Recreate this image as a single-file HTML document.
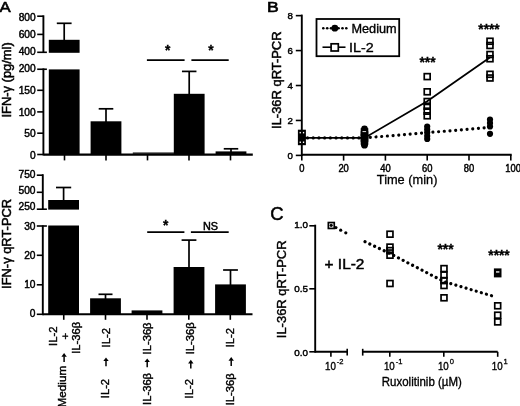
<!DOCTYPE html>
<html><head><meta charset="utf-8"><title>Figure</title>
<style>
html,body{margin:0;padding:0;background:#fff;}
body{width:520px;height:406px;overflow:hidden;}
svg{display:block;font-family:"Liberation Sans", sans-serif;fill:#000;filter:blur(0.35px);}
svg text{font-family:"Liberation Sans", sans-serif;fill:#000;}
</style></head>
<body>
<svg width="520" height="406" viewBox="0 0 520 406">
<rect x="-5" y="-5" width="530" height="416" fill="#fff"/>
<text transform="translate(-0.4,12.3) scale(1.2,1)" font-size="14" text-anchor="start" font-weight="normal" stroke="#000" stroke-width="0.55" >A</text>
<line x1="43.4" y1="15.3" x2="43.4" y2="53.0" stroke="#000" stroke-width="1.9" />
<line x1="37.2" y1="16.2" x2="43.4" y2="16.2" stroke="#000" stroke-width="1.6" />
<text transform="translate(35.7,21.15) scale(1.0,1)" font-size="10.2" text-anchor="end" font-weight="normal" stroke="#000" stroke-width="0.45" >800</text>
<line x1="37.2" y1="34.4" x2="43.4" y2="34.4" stroke="#000" stroke-width="1.6" />
<text transform="translate(35.7,38.099999999999994) scale(1.0,1)" font-size="10.2" text-anchor="end" font-weight="normal" stroke="#000" stroke-width="0.45" >600</text>
<line x1="37.2" y1="52.3" x2="46.9" y2="52.3" stroke="#000" stroke-width="1.6" />
<text transform="translate(35.7,55.099999999999994) scale(1.0,1)" font-size="10.2" text-anchor="end" font-weight="normal" stroke="#000" stroke-width="0.45" >400</text>
<line x1="43.4" y1="68.4" x2="43.4" y2="155.4" stroke="#000" stroke-width="1.9" />
<line x1="37.2" y1="69.25" x2="46.9" y2="69.25" stroke="#000" stroke-width="1.6" />
<text transform="translate(35.7,72.4) scale(1.0,1)" font-size="10.2" text-anchor="end" font-weight="normal" stroke="#000" stroke-width="0.45" >200</text>
<line x1="37.2" y1="90.3" x2="43.4" y2="90.3" stroke="#000" stroke-width="1.6" />
<text transform="translate(35.7,93.85000000000001) scale(1.0,1)" font-size="10.2" text-anchor="end" font-weight="normal" stroke="#000" stroke-width="0.45" >150</text>
<line x1="37.2" y1="111.9" x2="43.4" y2="111.9" stroke="#000" stroke-width="1.6" />
<text transform="translate(35.7,115.8) scale(1.0,1)" font-size="10.2" text-anchor="end" font-weight="normal" stroke="#000" stroke-width="0.45" >100</text>
<line x1="37.2" y1="133.2" x2="43.4" y2="133.2" stroke="#000" stroke-width="1.6" />
<text transform="translate(35.7,137.4) scale(1.0,1)" font-size="10.2" text-anchor="end" font-weight="normal" stroke="#000" stroke-width="0.45" >50</text>
<line x1="37.2" y1="154.5" x2="43.4" y2="154.5" stroke="#000" stroke-width="1.6" />
<text transform="translate(35.7,159.10000000000002) scale(1.0,1)" font-size="10.2" text-anchor="end" font-weight="normal" stroke="#000" stroke-width="0.45" >0</text>
<line x1="43.4" y1="154.6" x2="252.8" y2="154.6" stroke="#000" stroke-width="2.1" />
<line x1="64.5" y1="154.5" x2="64.5" y2="160.4" stroke="#000" stroke-width="1.6" />
<line x1="106" y1="154.5" x2="106" y2="160.4" stroke="#000" stroke-width="1.6" />
<line x1="147.5" y1="154.5" x2="147.5" y2="160.4" stroke="#000" stroke-width="1.6" />
<line x1="189" y1="154.5" x2="189" y2="160.4" stroke="#000" stroke-width="1.6" />
<line x1="230.5" y1="154.5" x2="230.5" y2="160.4" stroke="#000" stroke-width="1.6" />
<rect x="48.800000000000004" y="39.8" width="30.8" height="13.0" fill="#000" />
<line x1="64.2" y1="23.3" x2="64.2" y2="40.8" stroke="#000" stroke-width="1.7" />
<line x1="56.800000000000004" y1="23.3" x2="71.60000000000001" y2="23.3" stroke="#000" stroke-width="1.7" />
<rect x="48.800000000000004" y="69.4" width="30.8" height="85.1" fill="#000" />
<rect x="90.6" y="121.3" width="30.8" height="33.2" fill="#000" />
<line x1="106.0" y1="108.8" x2="106.0" y2="122.3" stroke="#000" stroke-width="1.7" />
<line x1="98.7" y1="108.8" x2="113.3" y2="108.8" stroke="#000" stroke-width="1.7" />
<line x1="132.8" y1="153.2" x2="174" y2="153.2" stroke="#000" stroke-width="1.2" />
<rect x="173.79999999999998" y="93.8" width="30.8" height="60.7" fill="#000" />
<line x1="189.2" y1="71.4" x2="189.2" y2="94.8" stroke="#000" stroke-width="1.7" />
<line x1="181.95" y1="71.4" x2="196.45" y2="71.4" stroke="#000" stroke-width="1.7" />
<rect x="215.6" y="151.4" width="30.8" height="3.0999999999999943" fill="#000" />
<line x1="231" y1="148.8" x2="231" y2="152.4" stroke="#000" stroke-width="1.7" />
<line x1="223.75" y1="148.8" x2="238.25" y2="148.8" stroke="#000" stroke-width="1.7" />
<line x1="146.9" y1="60.1" x2="184.6" y2="60.1" stroke="#000" stroke-width="1.7" />
<line x1="191.4" y1="60.1" x2="228.7" y2="60.1" stroke="#000" stroke-width="1.7" />
<text transform="translate(167.6,54.6) scale(1,1)" font-size="13.8" text-anchor="middle" font-weight="bold" stroke="#000" stroke-width="0.3" >*</text>
<text transform="translate(211.0,54.6) scale(1,1)" font-size="13.8" text-anchor="middle" font-weight="bold" stroke="#000" stroke-width="0.3" >*</text>
<text transform="translate(11.0,117.5) rotate(-90) scale(1,1)" font-size="12.9" text-anchor="start" stroke="#000" stroke-width="0.5" >IFN-γ (pg/ml)</text>
<line x1="42.8" y1="174.2" x2="42.8" y2="210.0" stroke="#000" stroke-width="1.9" />
<line x1="36.8" y1="175.2" x2="42.8" y2="175.2" stroke="#000" stroke-width="1.6" />
<text transform="translate(35.5,177.9) scale(1.0,1)" font-size="10.2" text-anchor="end" font-weight="normal" stroke="#000" stroke-width="0.45" >750</text>
<line x1="36.8" y1="192.3" x2="42.8" y2="192.3" stroke="#000" stroke-width="1.6" />
<text transform="translate(35.5,193.9) scale(1.0,1)" font-size="10.2" text-anchor="end" font-weight="normal" stroke="#000" stroke-width="0.45" >500</text>
<line x1="36.8" y1="209.2" x2="46.9" y2="209.2" stroke="#000" stroke-width="1.6" />
<text transform="translate(35.5,209.8) scale(1.0,1)" font-size="10.2" text-anchor="end" font-weight="normal" stroke="#000" stroke-width="0.45" >250</text>
<line x1="42.8" y1="225.4" x2="42.8" y2="315.2" stroke="#000" stroke-width="1.9" />
<line x1="36.8" y1="226.0" x2="46.9" y2="226.0" stroke="#000" stroke-width="1.6" />
<text transform="translate(35.5,230.20000000000002) scale(1.0,1)" font-size="10.2" text-anchor="end" font-weight="normal" stroke="#000" stroke-width="0.45" >30</text>
<line x1="36.8" y1="255.3" x2="42.8" y2="255.3" stroke="#000" stroke-width="1.6" />
<text transform="translate(35.5,258.9) scale(1.0,1)" font-size="10.2" text-anchor="end" font-weight="normal" stroke="#000" stroke-width="0.45" >20</text>
<line x1="36.8" y1="284.8" x2="42.8" y2="284.8" stroke="#000" stroke-width="1.6" />
<text transform="translate(35.5,288.2) scale(1.0,1)" font-size="10.2" text-anchor="end" font-weight="normal" stroke="#000" stroke-width="0.45" >10</text>
<line x1="36.8" y1="314.3" x2="42.8" y2="314.3" stroke="#000" stroke-width="1.6" />
<text transform="translate(35.5,317.0) scale(1.0,1)" font-size="10.2" text-anchor="end" font-weight="normal" stroke="#000" stroke-width="0.45" >0</text>
<line x1="42.8" y1="314.3" x2="252.5" y2="314.3" stroke="#000" stroke-width="2.1" />
<line x1="63.75" y1="314.3" x2="63.75" y2="319.8" stroke="#000" stroke-width="1.6" />
<line x1="105.5" y1="314.3" x2="105.5" y2="319.8" stroke="#000" stroke-width="1.6" />
<line x1="147" y1="314.3" x2="147" y2="319.8" stroke="#000" stroke-width="1.6" />
<line x1="188.8" y1="314.3" x2="188.8" y2="319.8" stroke="#000" stroke-width="1.6" />
<line x1="230.3" y1="314.3" x2="230.3" y2="319.8" stroke="#000" stroke-width="1.6" />
<rect x="48.2" y="200" width="30.8" height="9.599999999999994" fill="#000" />
<line x1="63.6" y1="187.5" x2="63.6" y2="201" stroke="#000" stroke-width="1.7" />
<line x1="56.0" y1="187.5" x2="71.2" y2="187.5" stroke="#000" stroke-width="1.7" />
<rect x="48.2" y="225.5" width="30.8" height="88.80000000000001" fill="#000" />
<rect x="90.1" y="298.3" width="30.8" height="16.0" fill="#000" />
<line x1="105.5" y1="294.3" x2="105.5" y2="299.3" stroke="#000" stroke-width="1.7" />
<line x1="98.5" y1="294.3" x2="112.5" y2="294.3" stroke="#000" stroke-width="1.7" />
<rect x="131.6" y="310.4" width="30.8" height="3.900000000000034" fill="#000" />
<rect x="173.6" y="267" width="30.8" height="47.30000000000001" fill="#000" />
<line x1="189" y1="240.1" x2="189" y2="268" stroke="#000" stroke-width="1.7" />
<line x1="181.6" y1="240.1" x2="196.4" y2="240.1" stroke="#000" stroke-width="1.7" />
<rect x="215.1" y="284.4" width="30.8" height="29.900000000000034" fill="#000" />
<line x1="230.5" y1="270" x2="230.5" y2="285.4" stroke="#000" stroke-width="1.7" />
<line x1="223.1" y1="270" x2="237.9" y2="270" stroke="#000" stroke-width="1.7" />
<line x1="147.2" y1="232.1" x2="184.4" y2="232.1" stroke="#000" stroke-width="1.7" />
<line x1="190.9" y1="232.1" x2="228.7" y2="232.1" stroke="#000" stroke-width="1.7" />
<text transform="translate(165.8,229.6) scale(1,1)" font-size="13.8" text-anchor="middle" font-weight="bold" stroke="#000" stroke-width="0.3" >*</text>
<text transform="translate(210.5,229.6) scale(1,1)" font-size="10.8" text-anchor="middle" font-weight="normal" stroke="#000" stroke-width="0.5" >NS</text>
<text transform="translate(11.0,288.9) rotate(-90) scale(1,1)" font-size="12.9" text-anchor="start" stroke="#000" stroke-width="0.5" >IFN-γ qRT-PCR</text>
<text transform="translate(56.8,346.0) rotate(-90) scale(1,1)" font-size="11.3" text-anchor="start" stroke="#000" stroke-width="0.4" >IL-2</text>
<text transform="translate(68.9,339.4) rotate(-90) scale(1,1)" font-size="11.2" text-anchor="start" stroke="#000" stroke-width="0.4" >+</text>
<text transform="translate(80.3,353.8) rotate(-90) scale(1,1)" font-size="11.2" text-anchor="start" stroke="#000" stroke-width="0.4" >IL-36β</text>
<text transform="translate(65.9,407.6) rotate(-90) scale(1,1)" font-size="11.8" text-anchor="start" stroke="#000" stroke-width="0.4" >Medium</text>
<path d="M64.1,353.09999999999997 L66.8,356.79999999999995 L61.39999999999999,356.79999999999995 Z" fill="#000"/>
<line x1="64.1" y1="356.29999999999995" x2="64.1" y2="362.0" stroke="#000" stroke-width="1.5" />
<text transform="translate(110.1,347.4) rotate(-90) scale(1,1)" font-size="11.3" text-anchor="start" stroke="#000" stroke-width="0.4" >IL-2</text>
<path d="M106.0,357.4 L108.7,361.09999999999997 L103.3,361.09999999999997 Z" fill="#000"/>
<line x1="106.0" y1="360.59999999999997" x2="106.0" y2="366.3" stroke="#000" stroke-width="1.5" />
<text transform="translate(109.4,398.2) rotate(-90) scale(1,1)" font-size="11.2" text-anchor="start" stroke="#000" stroke-width="0.4" >IL-2</text>
<text transform="translate(150.9,354.4) rotate(-90) scale(1,1)" font-size="11.2" text-anchor="start" stroke="#000" stroke-width="0.4" >IL-36β</text>
<path d="M147.2,358.4 L149.89999999999998,362.09999999999997 L144.5,362.09999999999997 Z" fill="#000"/>
<line x1="147.2" y1="361.59999999999997" x2="147.2" y2="367.3" stroke="#000" stroke-width="1.5" />
<text transform="translate(151.1,404.9) rotate(-90) scale(1,1)" font-size="11.2" text-anchor="start" stroke="#000" stroke-width="0.4" >IL-36β</text>
<text transform="translate(194.0,354.3) rotate(-90) scale(1,1)" font-size="11.2" text-anchor="start" stroke="#000" stroke-width="0.4" >IL-36β</text>
<path d="M190.8,359.7 L193.5,363.4 L188.10000000000002,363.4 Z" fill="#000"/>
<line x1="190.8" y1="362.9" x2="190.8" y2="368.6" stroke="#000" stroke-width="1.5" />
<text transform="translate(193.4,398.4) rotate(-90) scale(1,1)" font-size="11.2" text-anchor="start" stroke="#000" stroke-width="0.4" >IL-2</text>
<text transform="translate(234.4,347.3) rotate(-90) scale(1,1)" font-size="11.2" text-anchor="start" stroke="#000" stroke-width="0.4" >IL-2</text>
<path d="M231.2,357.09999999999997 L233.89999999999998,360.79999999999995 L228.5,360.79999999999995 Z" fill="#000"/>
<line x1="231.2" y1="360.29999999999995" x2="231.2" y2="366.0" stroke="#000" stroke-width="1.5" />
<text transform="translate(234.4,405.3) rotate(-90) scale(1,1)" font-size="11.2" text-anchor="start" stroke="#000" stroke-width="0.4" >IL-36β</text>
<text transform="translate(267.0,12.2) scale(1.24,1)" font-size="14.2" text-anchor="start" font-weight="normal" stroke="#000" stroke-width="0.6" >B</text>
<line x1="301.8" y1="14.6" x2="301.8" y2="156.0" stroke="#000" stroke-width="1.9" />
<line x1="295.8" y1="155.4" x2="301.8" y2="155.4" stroke="#000" stroke-width="1.6" />
<text transform="translate(293.0,158.85000000000002) scale(1.0,1)" font-size="9.7" text-anchor="end" font-weight="normal" stroke="#000" stroke-width="0.45" >0</text>
<line x1="295.8" y1="120.46000000000001" x2="301.8" y2="120.46000000000001" stroke="#000" stroke-width="1.6" />
<text transform="translate(293.0,123.91000000000001) scale(1.0,1)" font-size="9.7" text-anchor="end" font-weight="normal" stroke="#000" stroke-width="0.45" >2</text>
<line x1="295.8" y1="85.52000000000001" x2="301.8" y2="85.52000000000001" stroke="#000" stroke-width="1.6" />
<text transform="translate(293.0,88.97000000000001) scale(1.0,1)" font-size="9.7" text-anchor="end" font-weight="normal" stroke="#000" stroke-width="0.45" >4</text>
<line x1="295.8" y1="50.58000000000001" x2="301.8" y2="50.58000000000001" stroke="#000" stroke-width="1.6" />
<text transform="translate(293.0,54.03000000000001) scale(1.0,1)" font-size="9.7" text-anchor="end" font-weight="normal" stroke="#000" stroke-width="0.45" >6</text>
<line x1="295.8" y1="15.640000000000015" x2="301.8" y2="15.640000000000015" stroke="#000" stroke-width="1.6" />
<text transform="translate(293.0,19.090000000000014) scale(1.0,1)" font-size="9.7" text-anchor="end" font-weight="normal" stroke="#000" stroke-width="0.45" >8</text>
<line x1="301.8" y1="154.8" x2="511.7" y2="154.8" stroke="#000" stroke-width="2.1" />
<line x1="301.8" y1="154.8" x2="301.8" y2="160.6" stroke="#000" stroke-width="1.6" />
<text transform="translate(301.8,171.55) scale(0.93,1)" font-size="10.1" text-anchor="middle" font-weight="normal" stroke="#000" stroke-width="0.45" >0</text>
<line x1="343.6" y1="154.8" x2="343.6" y2="160.6" stroke="#000" stroke-width="1.6" />
<text transform="translate(343.6,171.55) scale(0.93,1)" font-size="10.1" text-anchor="middle" font-weight="normal" stroke="#000" stroke-width="0.45" >20</text>
<line x1="385.4" y1="154.8" x2="385.4" y2="160.6" stroke="#000" stroke-width="1.6" />
<text transform="translate(385.4,171.55) scale(0.93,1)" font-size="10.1" text-anchor="middle" font-weight="normal" stroke="#000" stroke-width="0.45" >40</text>
<line x1="427.2" y1="154.8" x2="427.2" y2="160.6" stroke="#000" stroke-width="1.6" />
<text transform="translate(427.2,171.55) scale(0.93,1)" font-size="10.1" text-anchor="middle" font-weight="normal" stroke="#000" stroke-width="0.45" >60</text>
<line x1="469.0" y1="154.8" x2="469.0" y2="160.6" stroke="#000" stroke-width="1.6" />
<text transform="translate(469.0,171.55) scale(0.93,1)" font-size="10.1" text-anchor="middle" font-weight="normal" stroke="#000" stroke-width="0.45" >80</text>
<line x1="510.8" y1="154.8" x2="510.8" y2="160.6" stroke="#000" stroke-width="1.6" />
<text transform="translate(505.3,171.55) scale(0.93,1)" font-size="10.1" text-anchor="start" font-weight="normal" stroke="#000" stroke-width="0.45" >100</text>
<text transform="translate(376.8,184.3) scale(1,1)" font-size="13.3" text-anchor="start" font-weight="normal" stroke="#000" stroke-width="0.3" textLength="60.6" lengthAdjust="spacingAndGlyphs">Time (min)</text>
<text transform="translate(280.5,128.9) rotate(-90) scale(1,1)" font-size="12.7" text-anchor="start" stroke="#000" stroke-width="0.5" textLength="97.4" lengthAdjust="spacingAndGlyphs">IL-36R qRT-PCR</text>
<polyline points="301.8,137.93 364.5,137.93 427.2,101.24300000000001 489.9,57.56800000000001" fill="none" stroke="#000" stroke-width="1.8"/>
<polyline points="301.8,137.93 364.5,137.93 427.2,132.68900000000002 489.9,127.44800000000001" fill="none" stroke="#000" stroke-width="3.2" stroke-linecap="round" stroke-dasharray="0.01 5.7"/>
<rect x="297.9" y="129.7" width="8.0" height="15.5" fill="#000" />
<rect x="299.6" y="131.9" width="1.3" height="1.5" fill="#fff" />
<rect x="299.6" y="141.5" width="1.3" height="1.5" fill="#fff" />
<rect x="302.9" y="131.9" width="1.3" height="1.5" fill="#fff" />
<rect x="302.9" y="141.5" width="1.3" height="1.5" fill="#fff" />
<rect x="361.55" y="129.05" width="5.9" height="5.9" fill="none" stroke="#000" stroke-width="1.7"/>
<rect x="361.55" y="132.05" width="5.9" height="5.9" fill="none" stroke="#000" stroke-width="1.7"/>
<rect x="361.55" y="135.05" width="5.9" height="5.9" fill="none" stroke="#000" stroke-width="1.7"/>
<rect x="361.55" y="138.05" width="5.9" height="5.9" fill="none" stroke="#000" stroke-width="1.7"/>
<circle cx="364.5" cy="128.8" r="3.35" fill="#000"/>
<circle cx="364.5" cy="132" r="3.35" fill="#000"/>
<circle cx="364.5" cy="135" r="3.35" fill="#000"/>
<circle cx="364.5" cy="138" r="3.35" fill="#000"/>
<circle cx="364.5" cy="141" r="3.35" fill="#000"/>
<circle cx="364.5" cy="144" r="3.35" fill="#000"/>
<circle cx="364.5" cy="145.2" r="3.35" fill="#000"/>
<line x1="362.5" y1="131.6" x2="366.1" y2="131.6" stroke="#000" stroke-width="0.9" style="stroke:#fff"/>
<rect x="424.25" y="73.64999999999999" width="5.9" height="5.9" fill="none" stroke="#000" stroke-width="1.7"/>
<rect x="424.25" y="88.85" width="5.9" height="5.9" fill="none" stroke="#000" stroke-width="1.7"/>
<rect x="424.25" y="98.55" width="5.9" height="5.9" fill="none" stroke="#000" stroke-width="1.7"/>
<rect x="424.25" y="103.25" width="5.9" height="5.9" fill="none" stroke="#000" stroke-width="1.7"/>
<rect x="424.25" y="108.25" width="5.9" height="5.9" fill="none" stroke="#000" stroke-width="1.7"/>
<rect x="424.25" y="112.85" width="5.9" height="5.9" fill="none" stroke="#000" stroke-width="1.7"/>
<circle cx="427.2" cy="126.5" r="3.1" fill="#000"/>
<circle cx="427.2" cy="129.5" r="3.1" fill="#000"/>
<circle cx="427.2" cy="132.5" r="3.1" fill="#000"/>
<circle cx="427.2" cy="136" r="3.1" fill="#000"/>
<circle cx="427.2" cy="139" r="3.1" fill="#000"/>
<rect x="487.05" y="38.3" width="5.9" height="5.9" fill="none" stroke="#000" stroke-width="1.7"/>
<rect x="487.05" y="42.55" width="5.9" height="5.9" fill="none" stroke="#000" stroke-width="1.7"/>
<rect x="487.05" y="51.55" width="5.9" height="5.9" fill="none" stroke="#000" stroke-width="1.7"/>
<rect x="487.05" y="55.8" width="5.9" height="5.9" fill="none" stroke="#000" stroke-width="1.7"/>
<rect x="487.05" y="71.35" width="5.9" height="5.9" fill="none" stroke="#000" stroke-width="1.7"/>
<rect x="487.05" y="75.05" width="5.9" height="5.9" fill="none" stroke="#000" stroke-width="1.7"/>
<circle cx="490" cy="119.5" r="3.1" fill="#000"/>
<circle cx="490" cy="123" r="3.1" fill="#000"/>
<circle cx="490" cy="126.5" r="3.1" fill="#000"/>
<circle cx="490" cy="133.8" r="3.1" fill="#000"/>
<text transform="translate(427.5,66.6) scale(1,1)" font-size="13.8" text-anchor="middle" font-weight="bold" stroke="#000" stroke-width="0.3" >***</text>
<text transform="translate(489,33.6) scale(1,1)" font-size="13.8" text-anchor="middle" font-weight="bold" stroke="#000" stroke-width="0.3" >****</text>
<rect x="316.5" y="19.0" width="82.7" height="37.2" fill="#fff" stroke="#000" stroke-width="1.8"/>
<circle cx="323.3" cy="28.2" r="1.3" fill="#000"/>
<circle cx="327.2" cy="28.2" r="1.3" fill="#000"/>
<circle cx="331.0" cy="28.2" r="1.3" fill="#000"/>
<circle cx="338.6" cy="28.2" r="1.3" fill="#000"/>
<circle cx="342.5" cy="28.2" r="1.3" fill="#000"/>
<circle cx="346.3" cy="28.2" r="1.3" fill="#000"/>
<circle cx="334.8" cy="28.2" r="3.4" fill="#000"/>
<line x1="322.5" y1="47.2" x2="345.5" y2="47.2" stroke="#000" stroke-width="1.6" />
<rect x="331.1" y="43.8" width="7.2" height="7.2" fill="#fff" stroke="#000" stroke-width="1.7"/>
<text transform="translate(351.5,32.6) scale(1,1)" font-size="12.7" text-anchor="start" font-weight="normal" stroke="#000" stroke-width="0.35" >Medium</text>
<text transform="translate(349.0,51.5) scale(1,1)" font-size="12.9" text-anchor="start" font-weight="normal" stroke="#000" stroke-width="0.35" textLength="24.6" lengthAdjust="spacingAndGlyphs">IL-2</text>
<text transform="translate(270.2,219.8) scale(1.05,1)" font-size="17.6" text-anchor="start" font-weight="normal" stroke="#000" stroke-width="0.45" >C</text>
<line x1="315.2" y1="224.7" x2="315.2" y2="352.7" stroke="#000" stroke-width="1.9" />
<line x1="309.3" y1="351.8" x2="315.2" y2="351.8" stroke="#000" stroke-width="1.6" />
<text transform="translate(308.0,355.65) scale(1.0,1)" font-size="9.9" text-anchor="end" font-weight="normal" stroke="#000" stroke-width="0.45" >0.0</text>
<line x1="309.3" y1="288.8" x2="315.2" y2="288.8" stroke="#000" stroke-width="1.6" />
<text transform="translate(308.0,291.94999999999993) scale(1.0,1)" font-size="9.9" text-anchor="end" font-weight="normal" stroke="#000" stroke-width="0.45" >0.5</text>
<line x1="309.3" y1="225.8" x2="315.2" y2="225.8" stroke="#000" stroke-width="1.6" />
<text transform="translate(308.0,228.15) scale(1.0,1)" font-size="9.9" text-anchor="end" font-weight="normal" stroke="#000" stroke-width="0.45" >1.0</text>
<line x1="315.2" y1="351.8" x2="347.2" y2="351.8" stroke="#000" stroke-width="2.1" />
<line x1="347.2" y1="348.8" x2="347.2" y2="355.6" stroke="#000" stroke-width="1.6" />
<line x1="362.7" y1="351.8" x2="497.7" y2="351.8" stroke="#000" stroke-width="2.1" />
<line x1="362.7" y1="348.8" x2="362.7" y2="355.6" stroke="#000" stroke-width="1.6" />
<line x1="330.9" y1="351.8" x2="330.9" y2="356.8" stroke="#000" stroke-width="1.6" />
<text transform="translate(335.9,369.6) scale(0.92,1)" font-size="10.6" text-anchor="end" font-weight="normal" stroke="#000" stroke-width="0.35" >10</text>
<text transform="translate(336.79999999999995,364.3) scale(0.95,1)" font-size="8" text-anchor="start" font-weight="normal" stroke="#000" stroke-width="0.3" >-2</text>
<line x1="389.8" y1="351.8" x2="389.8" y2="356.8" stroke="#000" stroke-width="1.6" />
<text transform="translate(394.8,369.6) scale(0.92,1)" font-size="10.6" text-anchor="end" font-weight="normal" stroke="#000" stroke-width="0.35" >10</text>
<text transform="translate(395.7,364.3) scale(0.95,1)" font-size="8" text-anchor="start" font-weight="normal" stroke="#000" stroke-width="0.3" >-1</text>
<line x1="443.8" y1="351.8" x2="443.8" y2="356.8" stroke="#000" stroke-width="1.6" />
<text transform="translate(448.8,369.6) scale(0.92,1)" font-size="10.6" text-anchor="end" font-weight="normal" stroke="#000" stroke-width="0.35" >10</text>
<text transform="translate(449.7,364.3) scale(0.95,1)" font-size="8" text-anchor="start" font-weight="normal" stroke="#000" stroke-width="0.3" >0</text>
<line x1="497.7" y1="351.8" x2="497.7" y2="356.8" stroke="#000" stroke-width="1.6" />
<text transform="translate(502.7,369.6) scale(0.92,1)" font-size="10.6" text-anchor="end" font-weight="normal" stroke="#000" stroke-width="0.35" >10</text>
<text transform="translate(503.59999999999997,364.3) scale(0.95,1)" font-size="8" text-anchor="start" font-weight="normal" stroke="#000" stroke-width="0.3" >1</text>
<text transform="translate(381.8,386.4) scale(1,1)" font-size="12.6" text-anchor="start" font-weight="normal" stroke="#000" stroke-width="0.35" textLength="80" lengthAdjust="spacingAndGlyphs">Ruxolitinib (µM)</text>
<text transform="translate(286.2,338.2) rotate(-90) scale(1,1)" font-size="12.6" text-anchor="start" stroke="#000" stroke-width="0.4" textLength="97.8" lengthAdjust="spacingAndGlyphs">IL-36R qRT-PCR</text>
<text transform="translate(324.6,268.9) scale(1,1)" font-size="15.4" text-anchor="start" font-weight="normal" stroke="#000" stroke-width="0.5" >+ IL-2</text>
<circle cx="331.2" cy="225.3" r="1.6" fill="#000"/>
<circle cx="335.9" cy="227.6" r="1.6" fill="#000"/>
<circle cx="340.7" cy="230.2" r="1.6" fill="#000"/>
<circle cx="345.8" cy="232.8" r="1.6" fill="#000"/>
<polyline points="365.0,241.7 390,253.5 444.2,281.7 494.6,296.6" fill="none" stroke="#000" stroke-width="3.2" stroke-linecap="round" stroke-dasharray="0.01 5.3"/>
<rect x="328.35" y="222.55" width="5.9" height="5.9" fill="none" stroke="#000" stroke-width="1.7"/>
<rect x="387.05" y="231.25" width="5.9" height="5.9" fill="none" stroke="#000" stroke-width="1.7"/>
<rect x="387.05" y="244.15" width="5.9" height="5.9" fill="none" stroke="#000" stroke-width="1.7"/>
<rect x="387.05" y="247.65" width="5.9" height="5.9" fill="none" stroke="#000" stroke-width="1.7"/>
<rect x="387.05" y="252.25" width="5.9" height="5.9" fill="none" stroke="#000" stroke-width="1.7"/>
<rect x="387.05" y="280.55" width="5.9" height="5.9" fill="none" stroke="#000" stroke-width="1.7"/>
<rect x="441.05" y="265.65000000000003" width="5.9" height="5.9" fill="none" stroke="#000" stroke-width="1.7"/>
<rect x="441.05" y="272.05" width="5.9" height="5.9" fill="none" stroke="#000" stroke-width="1.7"/>
<rect x="441.05" y="277.65000000000003" width="5.9" height="5.9" fill="none" stroke="#000" stroke-width="1.7"/>
<rect x="441.05" y="282.55" width="5.9" height="5.9" fill="none" stroke="#000" stroke-width="1.7"/>
<rect x="441.05" y="294.85" width="5.9" height="5.9" fill="none" stroke="#000" stroke-width="1.7"/>
<rect x="494.75" y="302.85" width="5.9" height="5.9" fill="none" stroke="#000" stroke-width="1.7"/>
<rect x="494.75" y="312.25" width="5.9" height="5.9" fill="none" stroke="#000" stroke-width="1.7"/>
<rect x="494.75" y="318.95" width="5.9" height="5.9" fill="none" stroke="#000" stroke-width="1.7"/>
<rect x="493.9" y="268.4" width="7.6" height="9.0" fill="#000" />
<rect x="496.0" y="271.3" width="3.4" height="1.3" fill="#fff" />
<text transform="translate(445.5,254.2) scale(1,1)" font-size="13.8" text-anchor="middle" font-weight="bold" stroke="#000" stroke-width="0.3" >***</text>
<text transform="translate(499,260.4) scale(1,1)" font-size="13.8" text-anchor="middle" font-weight="bold" stroke="#000" stroke-width="0.3" >****</text>
</svg>
</body></html>
